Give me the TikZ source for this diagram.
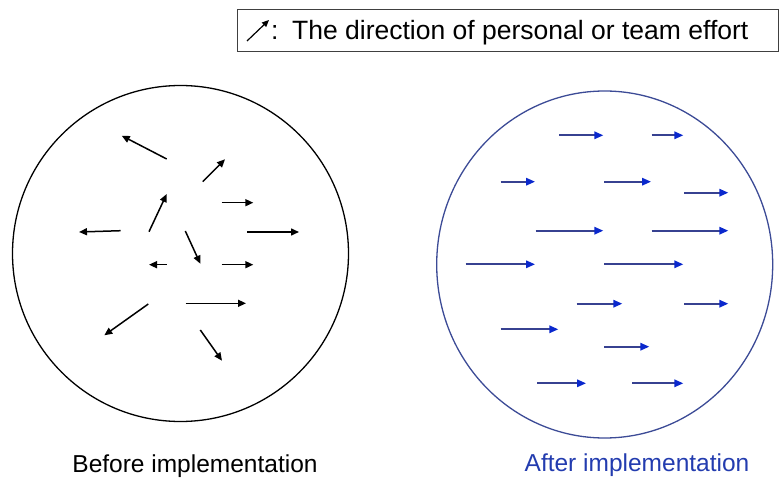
\documentclass[tikz,border=0pt]{standalone}
\usepackage{fontspec}
\setmainfont{Liberation Sans}
\usetikzlibrary{arrows.meta}
\usetikzlibrary{positioning}
\definecolor{ringblue}{RGB}{60,75,150}
\definecolor{shaftblue}{RGB}{55,65,145}
\definecolor{headblue}{RGB}{10,40,205}
\definecolor{labelblue}{RGB}{35,60,175}

\begin{document}
\begin{tikzpicture}[x=1pt, y=-1pt,
  effort/.style = {line width=1.5pt, -{Triangle[length=8pt, width=7pt]}},
  aligned/.style = {line width=1.7pt, shaftblue, -{Triangle[length=9pt, width=7.5pt, color=headblue]}},
  caption/.style = {font=\fontsize{24.5}{28}\selectfont, anchor=base, inner sep=0pt},
  keyfont/.style = {font=\fontsize{26.5}{30}\selectfont, anchor=base west, inner sep=0pt}]
\useasboundingbox (0,0) rectangle (779,478);
% legend
\node[draw=black!75, line width=1.3pt, minimum width=541pt, minimum height=42pt, inner sep=0pt, anchor=north west] (key) at (237,9) {};
\coordinate (tail) at (247,41);
\coordinate (tip) at (269,20);
\draw[line width=1.2pt, -{Triangle[length=7pt, width=6pt]}] (tail) -- (tip);
\node[keyfont] (colon) at (271,40) {:};
\node[keyfont] (keytext) at (292,40) {The direction of personal or team effort};
% before
\draw[line width=1.3pt] (180.5,253.5) circle (168pt);
\foreach \xa/\ya/\xb/\yb in {166.7/159/121.7/135.7, 202.7/181.7/225/159.3, 221.7/202.7/253.3/202.7,
  149/231.7/166.7/194, 120.7/230.7/79/232, 247.3/232/299/232, 185.3/231/200.3/263.7,
  166.7/264.7/149/264.7, 221.7/264.7/253.3/264.7, 185.7/303.3/246/303.3,
  148.3/304/104.3/335.3, 200.3/330/222/360.7}{
\draw[effort] (\xa,\ya) -- (\xb,\yb);}
\node[caption] (before) at (195,472) {Before implementation};
% after
\draw[ringblue, line width=1.3pt] (604.7,264.5) ellipse [x radius=168pt, y radius=173.5pt];
\foreach \xa/\xb/\y in {559.3/603.3/135.3, 651.7/683.3/135.3, 500.7/535/181.7, 604.3/651/181.7,
  684/728.3/192.7, 535.7/603.3/230.7, 651.7/728.3/230.7, 465.7/535/264.3, 604.3/683.3/264.3,
  576.7/622.3/303.7, 684/728.3/303.7, 500.7/558.3/329.3, 604.3/649.3/346.7,
  537.3/586/383.3, 632/683.3/383.3}{
\draw[aligned] (\xa,\y) -- (\xb,\y);}
\node[caption, labelblue] (after) at (637,471) {After implementation};
\end{tikzpicture}
\end{document}
